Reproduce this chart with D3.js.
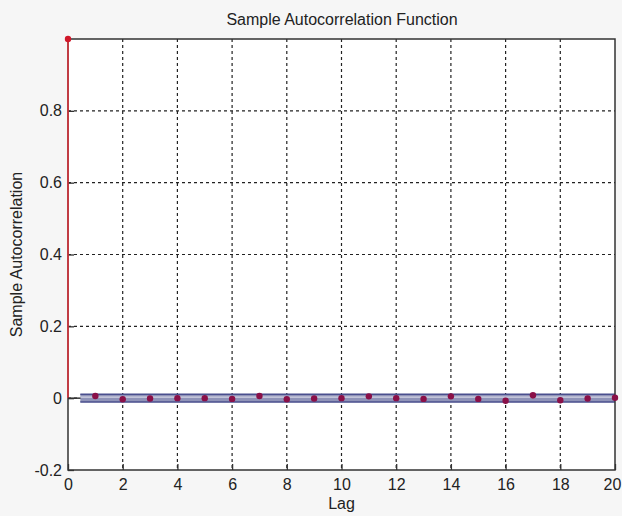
<!DOCTYPE html>
<html>
<head>
<meta charset="UTF-8">
<title>Sample Autocorrelation Function</title>
<script src="https://cdn.jsdelivr.net/npm/d3@7"></script>
<style>
  body { margin: 0; background: #f6f6f6; }
  text { font-family: "Liberation Sans", Arial, sans-serif; fill: #222; }
</style>
</head>
<body>
<script>
// lags and their sample autocorrelation
const lags = d3.range(0, 21);
const acf = [1.0, 0.006, -0.003, -0.001, 0.0, 0.0, -0.002, 0.006, -0.003, -0.001, 0.0,
             0.005, 0.0, -0.002, 0.005, -0.002, -0.007, 0.008, -0.006, -0.001, 0.001];
const bound = 0.011;          // confidence bounds +/-
const xTicks = d3.range(0, 21, 2);
const yTicks = [-0.2, 0, 0.2, 0.4, 0.6, 0.8];
const yTickLabels = ['-0.2', '0', '0.2', '0.4', '0.6', '0.8'];

const width = 622, height = 516;
const m = { left: 68, right: 7, top: 39, bottom: 46 };

const svg = d3.select('body').append('svg')
    .attr('width', width)
    .attr('height', height);

const x = d3.scaleLinear().domain([0, 20]).range([m.left, width - m.right]);
const y = d3.scaleLinear().domain([-0.2, 1]).range([height - m.bottom, m.top]);

svg.append('rect')
    .attr('x', x(0)).attr('y', y(1))
    .attr('width', x(20) - x(0)).attr('height', y(-0.2) - y(1))
    .attr('fill', '#fff');

// dashed grid
const grid = svg.append('g')
    .attr('stroke', '#222')
    .attr('stroke-width', 1.2)
    .attr('stroke-dasharray', '3,3');
grid.selectAll('.gx').data(xTicks.slice(1, -1)).join('line')
    .attr('x1', d => x(d)).attr('x2', d => x(d))
    .attr('y1', y(1)).attr('y2', y(-0.2));
grid.selectAll('.gy').data(yTicks.slice(1)).join('line')
    .attr('x1', x(0)).attr('x2', x(20))
    .attr('y1', d => y(d)).attr('y2', d => y(d));

// confidence bounds
const bnd = svg.append('g');
bnd.append('rect')
    .attr('x', x(0.45)).attr('width', x(20) - x(0.45))
    .attr('y', y(bound)).attr('height', y(-bound) - y(bound))
    .attr('fill', '#8f93b8');
bnd.selectAll('line').data([bound, -bound]).join('line')
    .attr('x1', x(0.45)).attr('x2', x(20))
    .attr('y1', d => y(d)).attr('y2', d => y(d))
    .attr('stroke', '#4a4f8e').attr('stroke-width', 1.5);
bnd.append('line')
    .attr('x1', x(0.45)).attr('x2', x(20))
    .attr('y1', y(0.003)).attr('y2', y(0.003))
    .attr('stroke', '#e6e6f0').attr('stroke-width', 1);

// axes
const ax = d3.axisBottom(x).tickValues(xTicks).tickSize(-6).tickPadding(9);
const ay = d3.axisLeft(y).tickValues(yTicks).tickSize(-6).tickPadding(6)
    .tickFormat((d, i) => yTickLabels[i]);

const gx = svg.append('g').attr('transform', `translate(0,${y(-0.2)})`).call(ax);
const gy = svg.append('g').attr('transform', `translate(${x(0)},0)`).call(ay);
[gx, gy].forEach(g => {
    g.select('.domain').remove();
    g.selectAll('line').attr('stroke', '#333').attr('stroke-width', 1.3);
    g.selectAll('text').style('font-size', '16px').attr('fill', '#222');
});
// last label sits at the window edge; pull it in a little
gx.selectAll('.tick text').filter(d => d === 20).attr('dx', -3);

// box
svg.append('rect')
    .attr('x', x(0)).attr('y', y(1))
    .attr('width', x(20) - x(0)).attr('height', y(-0.2) - y(1))
    .attr('fill', 'none').attr('stroke', '#333').attr('stroke-width', 1.5);

// stems
const pts = lags.map((l, i) => ({ lag: l, v: acf[i] }));
svg.append('g').selectAll('line').data(pts).join('line')
    .attr('x1', d => x(d.lag)).attr('x2', d => x(d.lag))
    .attr('y1', y(0)).attr('y2', d => y(d.v))
    .attr('stroke', '#e0303a').attr('stroke-width', 1.5);
svg.append('line')
    .attr('x1', x(0)).attr('x2', x(0.45))
    .attr('y1', y(0)).attr('y2', y(0))
    .attr('stroke', '#333').attr('stroke-width', 1.5);
svg.append('g').selectAll('circle').data(pts).join('circle')
    .attr('cx', d => x(d.lag)).attr('cy', d => y(d.v))
    .attr('r', 3.2)
    .attr('fill', d => d.lag === 0 ? '#d0182a' : '#8a1048');

// labels
svg.append('text')
    .attr('x', 342).attr('y', 25)
    .attr('text-anchor', 'middle')
    .style('font-size', '16px')
    .text('Sample Autocorrelation Function');
svg.append('text')
    .attr('x', (x(0) + x(20)) / 2).attr('y', 509)
    .attr('text-anchor', 'middle')
    .style('font-size', '16px')
    .text('Lag');
svg.append('text')
    .attr('transform', `translate(22,${(y(1) + y(-0.2)) / 2}) rotate(-90)`)
    .attr('text-anchor', 'middle')
    .style('font-size', '16px')
    .text('Sample Autocorrelation');
</script>
</body>
</html>
